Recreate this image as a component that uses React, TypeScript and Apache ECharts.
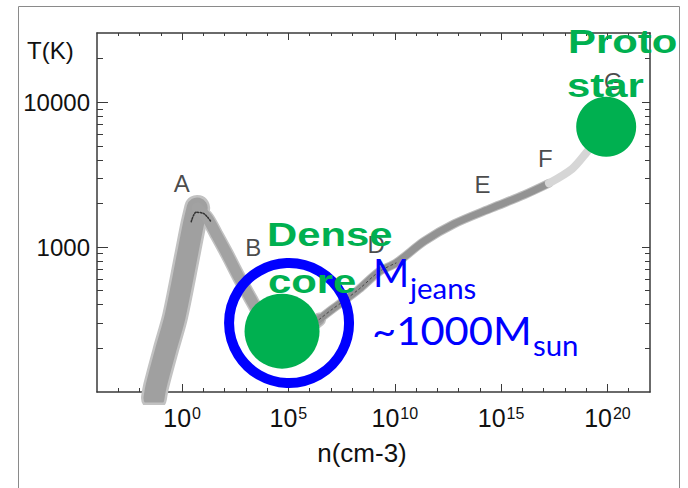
import React, { useEffect, useRef } from "react";
import * as echarts from "echarts";

// Thermal track of a collapsing cloud core.
// x = log10 n (cm^-3), y = log10 T (K)
const branchALogN = [-1.32, -1.22, -0.75, -0.33, 0.28, 0.52, 0.71];
const branchALogT = [1.96, 2.04, 2.3, 2.52, 2.97, 3.15, 3.27];
const branchBLogN = [0.71, 1.18, 1.6, 2.12, 2.68, 3.24, 3.71, 4.18, 4.7, 5.27, 5.83, 6.44];
const branchBLogT = [3.27, 3.2, 3.09, 2.95, 2.79, 2.64, 2.52, 2.42, 2.36, 2.37, 2.43, 2.5];
const branchDLogN = [6.44, 7.05, 7.52, 8.32, 9.26, 10.06, 11.38, 12.79, 14.57, 16.08, 17.25];
const branchDLogT = [2.5, 2.57, 2.62, 2.71, 2.83, 2.89, 3.04, 3.16, 3.27, 3.36, 3.44];
const branchFLogN = [17.25, 18.34, 19.0, 19.61, 19.94];
const branchFLogT = [3.44, 3.54, 3.65, 3.77, 3.83];
const peakDotsLogN = [0.43, 0.66, 1.03, 1.36];
const peakDotsLogT = [3.175, 3.24, 3.23, 3.175];

const phaseLabels = ["A", "B", "D", "E", "F", "G"];
const phaseLogN = [-0.02, 3.35, 9.12, 14.12, 17.08, 20.27];
const phaseLogT = [3.44, 3.0, 3.02, 3.43, 3.61, 4.14];

const denseCoreLogN = [4.7];
const denseCoreLogT = [2.42];
const protostarLogN = [19.94];
const protostarLogT = [3.83];
const jeansRingLogN = [5.03];
const jeansRingLogT = [2.476];

// axes
const xMinExp = -4;
const xMaxExp = 22;
const xMajorExp = [0, 5, 10, 15, 20];
const xMinorExp = [-3, -2, -1, 1, 2, 3, 4, 6, 7, 8, 9, 11, 12, 13, 14, 16, 17, 18, 19, 21];
const tMin = 100;
const tMax = 30000;
const yMajorT = [1000, 10000];
const yMinorT = [200, 300, 400, 500, 600, 700, 800, 900, 2000, 3000, 4000, 5000, 6000, 7000, 8000, 9000, 20000];

const pts = (xs: number[], ys: number[]) => xs.map((x, i) => [x, ys[i]]);
const lg = (v: number) => Math.log10(v);

const AX = "#3a3a3a";
const GREEN = "#00b050";
const BLUE = "#0000ff";
const SANS = "'Liberation Sans', Arial, sans-serif";
const NARROW = "'Liberation Sans Narrow', 'Arial Narrow', 'Liberation Sans', sans-serif";
const CAL = "Lato, 'Open Sans', sans-serif";

function band(xs: number[], ys: number[], width: number, color: string, z: number, type: any = "solid") {
  return {
    type: "line",
    data: pts(xs, ys),
    symbol: "none",
    smooth: 0.3,
    clip: true,
    silent: true,
    z,
    lineStyle: { width, color, cap: "round", join: "round", type },
  };
}

function xAxisDef(position: string, ticks: number[], len: number, labels: boolean, line: boolean) {
  return {
    type: "value",
    min: xMinExp,
    max: xMaxExp,
    position,
    splitLine: { show: false },
    axisLine: { show: line, onZero: false, lineStyle: { color: AX, width: 1.5 } },
    axisTick: { show: true, inside: true, length: len, customValues: ticks, lineStyle: { color: AX, width: 1 } },
    axisLabel: labels
      ? {
          show: true,
          customValues: xMajorExp,
          margin: 13,
          formatter: (v: number) => `{b|10}{s|${v}}`,
          rich: {
            b: { fontSize: 25, fontFamily: SANS, color: "#111" },
            s: { fontSize: 16, fontFamily: SANS, color: "#111", verticalAlign: "top", padding: [0, 0, 0, 1] },
          },
        }
      : { show: false },
  };
}

function yAxisDef(position: string, ticks: number[], len: number, labels: boolean, line: boolean) {
  return {
    type: "value",
    min: lg(tMin),
    max: lg(tMax),
    position,
    splitLine: { show: false },
    axisLine: { show: line, onZero: false, lineStyle: { color: AX, width: 1.5 } },
    axisTick: { show: true, inside: true, length: len, customValues: ticks.map(lg), lineStyle: { color: AX, width: 1 } },
    axisLabel: labels
      ? {
          show: true,
          customValues: yMajorT.map(lg),
          margin: 7,
          fontSize: 24,
          fontFamily: SANS,
          color: "#111",
          formatter: (v: number) => String(Math.round(Math.pow(10, v))),
        }
      : { show: false },
  };
}

function txt(text: string, x: number, y: number, size: number, color: string, family: string, weight = "normal", scaleX = 1, align = "left") {
  return {
    type: "text",
    x,
    y,
    scaleX,
    z: 100,
    silent: true,
    style: {
      text,
      fill: color,
      fontSize: size,
      fontWeight: weight,
      fontFamily: family,
      align,
      textAlign: align,
      verticalAlign: "middle",
      textVerticalAlign: "middle",
    },
  };
}

export default function App() {
  const ref = useRef<HTMLDivElement>(null);
  useEffect(() => {
    document.body.style.margin = "0";
    if (!ref.current) return;
    const chart = echarts.init(ref.current, undefined, { renderer: "svg" });
    chart.setOption({
      animation: false,
      backgroundColor: "#ffffff",
      grid: { left: 97, right: 38, top: 33, bottom: 96, containLabel: false },
      xAxis: [
        xAxisDef("bottom", xMajorExp, 8, true, true),
        xAxisDef("bottom", xMinorExp, 4, false, false),
        xAxisDef("top", xMajorExp, 7, false, true),
        xAxisDef("top", xMinorExp, 3, false, false),
      ],
      yAxis: [
        yAxisDef("left", yMajorT, 11, true, true),
        yAxisDef("left", yMinorT, 6, false, false),
        yAxisDef("right", yMajorT, 8, false, true),
        yAxisDef("right", yMinorT, 5, false, false),
      ],
      series: [
        band(branchALogN, branchALogT, 26, "#c2c2c2", 2),
        band(branchALogN, branchALogT, 21, "#a0a0a0", 3),
        band(branchBLogN, branchBLogT, 14, "#c2c2c2", 2),
        band(branchBLogN, branchBLogT, 11, "#a2a2a2", 3),
        band(branchDLogN, branchDLogT, 9, "#bdbdbd", 2),
        band(branchDLogN, branchDLogT, 7, "#939393", 3),
        band(branchFLogN, branchFLogT, 8, "#d6d6d6", 3),
        band(peakDotsLogN, peakDotsLogT, 1.5, "#333333", 4, "dotted"),
        band(branchDLogN.slice(0, 6), branchDLogT.slice(0, 6), 1, "#444444", 4, [2, 3]),
        {
          type: "scatter",
          silent: true,
          z: 4,
          symbolSize: 0,
          data: phaseLabels.map((name, i) => ({ name, value: [phaseLogN[i], phaseLogT[i]] })),
          label: {
            show: true,
            position: "inside",
            formatter: (p: any) => p.name,
            fontSize: 24,
            fontFamily: NARROW,
            color: "#1a1a1a",
          },
        },
        {
          type: "scatter",
          silent: true,
          z: 5,
          symbol: "circle",
          symbolSize: 120,
          data: pts(jeansRingLogN, jeansRingLogT),
          itemStyle: { color: "rgba(0,0,0,0)", borderColor: BLUE, borderWidth: 10, opacity: 1 },
        },
        {
          type: "scatter",
          silent: true,
          z: 6,
          symbolSize: 75,
          data: pts(denseCoreLogN, denseCoreLogT),
          itemStyle: { color: GREEN, opacity: 1 },
        },
        {
          type: "scatter",
          silent: true,
          z: 6,
          symbolSize: 60,
          data: pts(protostarLogN, protostarLogT),
          itemStyle: { color: GREEN, opacity: 1 },
        },
      ],
      graphic: [
        {
          type: "rect",
          z: 0,
          silent: true,
          shape: { x: 18.5, y: 6.5, width: 661, height: 500 },
          style: { fill: "none", stroke: "#8a8a8a", lineWidth: 1 },
        },
        txt("T(K)", 27, 50, 24, "#111", SANS),
        txt("n(cm-3)", 362, 453, 26, "#111", SANS, "normal", 1, "center"),
        txt("Dense", 267, 234, 34, GREEN, SANS, "bold", 1.23),
        txt("core", 268, 281, 34, GREEN, SANS, "bold", 1.23),
        txt("Proto", 568, 41, 34, GREEN, SANS, "bold", 1.23),
        txt("star", 567, 85, 34, GREEN, SANS, "bold", 1.23),
        txt("M", 373, 272, 39, BLUE, CAL),
        txt("jeans", 410, 288, 28, BLUE, CAL, "normal", 1.05),
        txt("~1000M", 372, 330, 39, BLUE, CAL, "normal", 1.07),
        txt("sun", 533, 345, 28, BLUE, CAL, "normal", 1.05),
      ],
    });
    return () => chart.dispose();
  }, []);
  return <div ref={ref} style={{ width: 688, height: 488 }} />;
}
